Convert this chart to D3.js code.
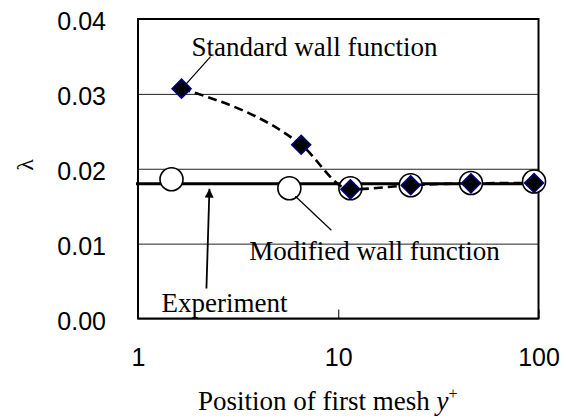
<!DOCTYPE html>
<meta charset="utf-8">
<style>
body { margin: 0; background: #fff; }
.tick text { font-family: "Liberation Sans", Arial, sans-serif; font-size: 25px; fill: #000; }
.note { font-family: "Liberation Serif", "Times New Roman", serif; font-size: 27px; fill: #000; }
</style>
<svg width="566" height="419"></svg>
<script src="https://cdn.jsdelivr.net/npm/d3@7"></script>
<script>

// standard wall function (diamonds)
var stdYPlus = [1.65, 6.53, 11.5, 23, 46, 95],
    stdLambda = [0.0307, 0.0232, 0.01725, 0.0178, 0.01805, 0.0181];

// modified wall function (open circles)
var modYPlus = [1.47, 5.7, 11.5, 23, 46, 95],
    modLambda = [0.0186, 0.0174, 0.0174, 0.0178, 0.0181, 0.0183];

var experiment = 0.018;

var xTicks = [1, 10, 100],
    yTicks = [0, 0.01, 0.02, 0.03, 0.04];

var svg = d3.select("svg"),
    margin = {top: 19, right: 27.5, bottom: 100.5, left: 138},
    width = +svg.attr("width") - margin.left - margin.right,
    height = +svg.attr("height") - margin.top - margin.bottom,
    g = svg.append("g").attr("transform", "translate(" + margin.left + "," + margin.top + ")");

var x = d3.scaleLog().domain([1, 100]).range([0, width]);
var y = d3.scaleLinear().domain([0, 0.04]).range([height, 0]);

// grid + y labels
var yAxis = g.append("g")
    .call(d3.axisLeft(y).tickValues(yTicks).tickFormat(d3.format(".2f"))
      .tickSizeInner(-width).tickSizeOuter(0).tickPadding(32));
yAxis.select(".domain").remove();
yAxis.selectAll(".tick line").attr("stroke", "#222").attr("stroke-width", 1);
yAxis.selectAll(".tick text").attr("dy", "0.42em");

var xAxis = g.append("g")
    .attr("transform", "translate(0," + height + ")")
    .call(d3.axisBottom(x).tickValues(xTicks).tickFormat(d3.format("d"))
      .tickSizeInner(-9).tickSizeOuter(0).tickPadding(30));
xAxis.select(".domain").remove();
xAxis.selectAll(".tick line").attr("stroke", "#000").attr("stroke-width", 1);

// frame
g.append("rect")
    .attr("width", width).attr("height", height)
    .attr("fill", "none").attr("stroke", "#000").attr("stroke-width", 2);

// experiment line
g.append("line")
    .attr("x1", -2).attr("x2", width)
    .attr("y1", y(experiment)).attr("y2", y(experiment))
    .attr("stroke", "#000").attr("stroke-width", 3.2);

var std = stdYPlus.map(function(d, i) { return {x: d, v: stdLambda[i]}; }),
    mod = modYPlus.map(function(d, i) { return {x: d, v: modLambda[i]}; });

g.selectAll(".mod")
    .data(mod)
  .enter().append("circle")
    .attr("class", "mod")
    .attr("cx", function(d) { return x(d.x); })
    .attr("cy", function(d) { return y(d.v); })
    .attr("r", 11.5)
    .attr("fill", "#fff")
    .attr("stroke", "#000")
    .attr("stroke-width", 1.6);

var line = d3.line()
    .x(function(d) { return x(d.x); })
    .y(function(d) { return y(d.v); })
    .curve(d3.curveMonotoneX);

g.append("path")
    .datum(std)
    .attr("d", line)
    .attr("fill", "none")
    .attr("stroke", "#000")
    .attr("stroke-width", 2.6)
    .attr("stroke-dasharray", "9,5");

g.selectAll(".std")
    .data(std)
  .enter().append("path")
    .attr("class", "std")
    .attr("transform", function(d) { return "translate(" + x(d.x) + "," + y(d.v) + ")"; })
    .attr("d", "M0,-9.5L9.5,0L0,9.5L-9.5,0Z")
    .attr("fill", "#000")
    .attr("stroke", "#000080")
    .attr("stroke-width", 1.5);

// annotations
var p0 = [x(std[0].x), y(std[0].v)];
g.append("line")
    .attr("x1", p0[0] + 4).attr("y1", p0[1] - 4)
    .attr("x2", p0[0] + 29).attr("y2", p0[1] - 32)
    .attr("stroke", "#000").attr("stroke-width", 1.2);
g.append("text").attr("class", "note")
    .attr("x", p0[0] + 10).attr("y", p0[1] - 33)
    .text("Standard wall function");

var p1 = [x(mod[1].x), y(mod[1].v)];
g.append("line")
    .attr("x1", p1[0] + 6).attr("y1", p1[1] + 8)
    .attr("x2", p1[0] + 42).attr("y2", p1[1] + 42)
    .attr("stroke", "#000").attr("stroke-width", 1.2);
g.append("text").attr("class", "note")
    .attr("x", p1[0] - 40).attr("y", p1[1] + 72)
    .text("Modified wall function");

var ex = x(2.3), ey = y(experiment);
svg.append("defs").append("marker")
    .attr("id", "arrow")
    .attr("viewBox", "0 0 10 10")
    .attr("refX", 10).attr("refY", 5)
    .attr("markerWidth", 5).attr("markerHeight", 5)
    .attr("markerUnits", "strokeWidth")
    .attr("orient", "auto")
  .append("path")
    .attr("d", "M0,0L10,5L0,10Z")
    .attr("fill", "#000");
g.append("line")
    .attr("x1", ex - 4).attr("y1", height - 30)
    .attr("x2", ex - 1).attr("y2", ey + 5)
    .attr("stroke", "#000").attr("stroke-width", 1.8)
    .attr("marker-end", "url(#arrow)");
g.append("text").attr("class", "note")
    .attr("x", ex - 49).attr("y", height - 7)
    .text("Experiment");

// axis titles
svg.append("text").attr("class", "note")
    .attr("x", 198).attr("y", 410)
    .text("Position of first mesh ")
  .append("tspan")
    .style("font-style", "italic")
    .text("y")
  .append("tspan")
    .attr("dy", -11)
    .style("font-size", "16px")
    .style("font-style", "normal")
    .text("+");

svg.append("text").attr("class", "note")
    .attr("transform", "translate(25,165) rotate(-90)")
    .attr("text-anchor", "middle")
    .attr("dy", "0.35em")
    .style("font-size", "24px")
    .text("λ");

</script>
